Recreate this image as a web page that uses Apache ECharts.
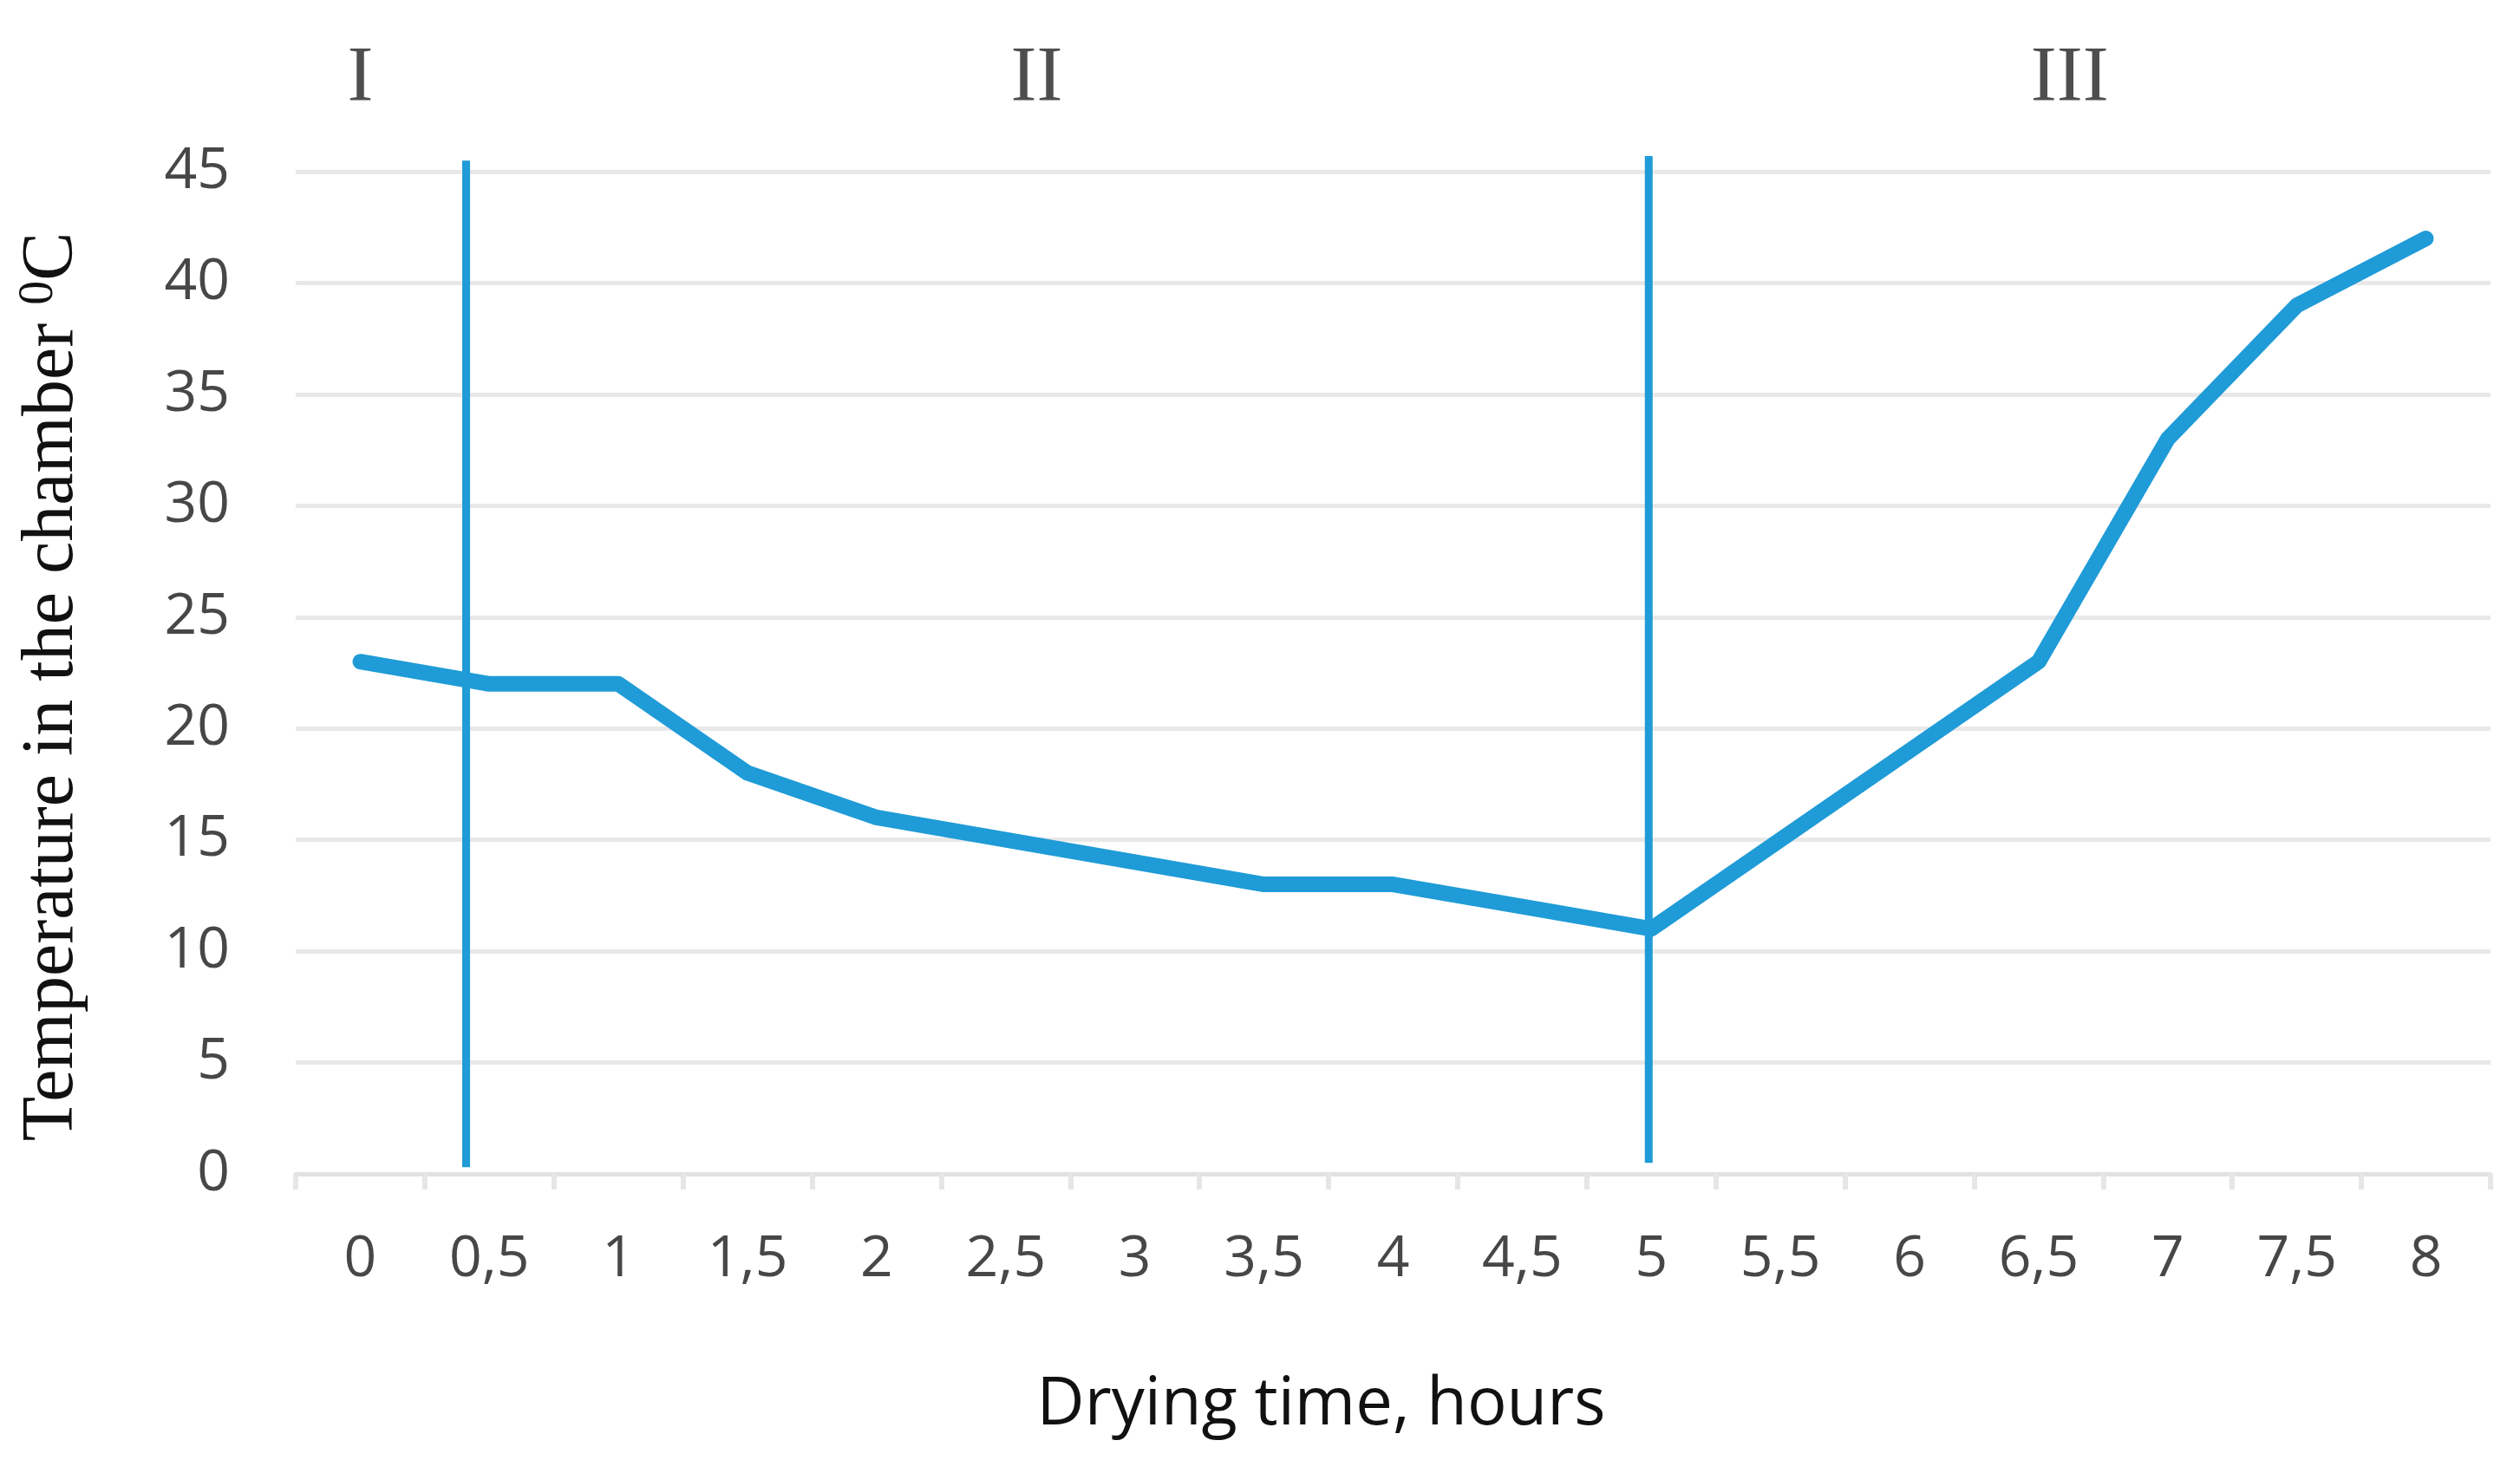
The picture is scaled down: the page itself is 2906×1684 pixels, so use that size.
<!DOCTYPE html>
<html>
<head>
<meta charset="utf-8">
<script src="https://cdn.jsdelivr.net/npm/echarts@6/dist/echarts.min.js"></script>
<style>
html,body{margin:0;padding:0;background:#fff;}
#chart{width:2906px;height:1684px;}
</style>
</head>
<body>
<div id="chart"></div>
<script>
// Data
const categories = ['0','0,5','1','1,5','2','2,5','3','3,5','4','4,5','5','5,5','6','6,5','7','7,5','8'];
const temperature = [23,22,22,18,16,15,14,13,13,12,11,15,19,23,33,39,42];
const yTicks = [0,5,10,15,20,25,30,35,40,45];
// phase boundaries (hours) and their vertical extents (°C)
const boundary1 = [[0.41,0.3],[0.41,45.5]];
const boundary2 = [[4.99,0.5],[4.99,45.7]];
// phase labels: [hours, °C, label]
const phaseLabels = [[0,49.1,'I'],[2.62,49.1,'II'],[6.62,49.1,'III']];

const chart = echarts.init(document.getElementById('chart'), null, {renderer:'canvas'});
const blue = '#1f9bd7';
chart.setOption({
  animation:false,
  backgroundColor:'#ffffff',
  grid:{left:341,right:34,top:198,bottom:330,containLabel:false},
  xAxis:[{
    type:'category',
    data:categories,
    boundaryGap:true,
    axisLine:{show:true,lineStyle:{color:'#e2e2e2',width:5}},
    axisTick:{show:true,length:18,lineStyle:{color:'#e6e6e6',width:6}},
    axisLabel:{color:'#474747',fontFamily:'Open Sans',fontSize:66,margin:66},
    splitLine:{show:false},
    name:'Drying time, hours',
    nameLocation:'middle',
    nameGap:229,
    nameTextStyle:{color:'#111111',fontFamily:'Open Sans',fontSize:76,padding:[0,166,0,0]}
  },{
    type:'value',
    show:false,
    min:-0.25,max:8.25
  }],
  yAxis:{
    type:'value',
    min:0,max:45,interval:5,
    axisLine:{show:false},
    axisTick:{show:false},
    axisLabel:{color:'#474747',fontFamily:'Open Sans',fontSize:66,margin:76,
      formatter:function(v){return yTicks.indexOf(v)>=0?String(v):'';}},
    splitLine:{show:true,lineStyle:{color:'#e8e8e8',width:5}},
    name:'{a|Temperature in the chamber }{s|0}{a|C}',
    nameLocation:'middle',
    nameGap:238,
    nameRotate:90,
    nameTextStyle:{
      padding:[0,32,0,0],
      rich:{
        a:{fontFamily:'Liberation Serif',fontSize:84,color:'#111111',verticalAlign:'bottom'},
        s:{fontFamily:'Liberation Serif',fontSize:56,color:'#111111',verticalAlign:'top',padding:[0,0,30,0]}
      }
    }
  },
  series:[{
    type:'line',
    xAxisIndex:0,
    data:temperature,
    symbol:'none',
    lineStyle:{color:blue,width:18,cap:'round',join:'round'},
    z:3
  },{
    type:'line',
    xAxisIndex:1,
    data:boundary1,
    symbol:'none',
    clip:false,
    lineStyle:{color:blue,width:9},
    z:4
  },{
    type:'line',
    xAxisIndex:1,
    data:boundary2,
    symbol:'none',
    clip:false,
    lineStyle:{color:blue,width:9},
    z:4
  },{
    type:'scatter',
    xAxisIndex:1,
    data:phaseLabels,
    symbolSize:0,
    clip:false,
    label:{show:true,position:'inside',
      formatter:function(p){return p.data[2];},
      fontFamily:'Liberation Serif',fontSize:90,color:'#222222'}
  }]
});
</script>
</body>
</html>
